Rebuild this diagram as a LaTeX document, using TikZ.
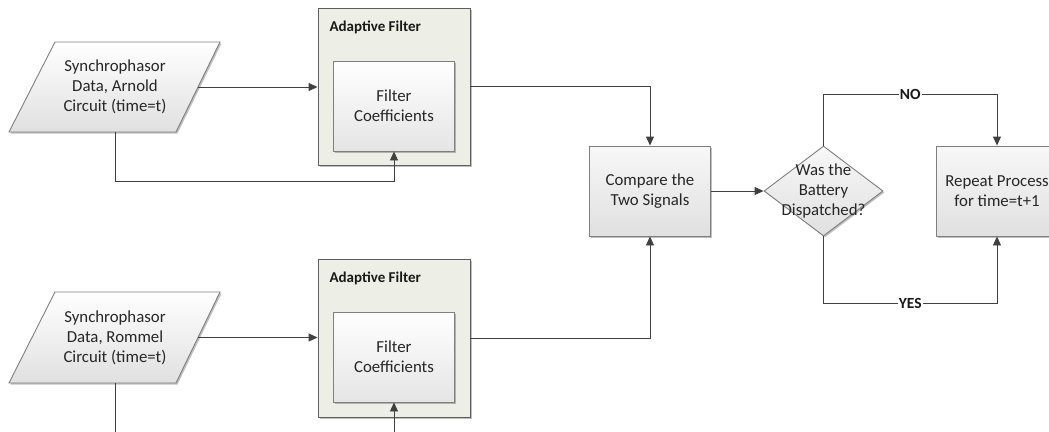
\documentclass[tikz,border=0pt]{standalone}
\usepackage{fontspec}
\setmainfont{Carlito}
\usetikzlibrary{arrows.meta,shapes.geometric,shadows}
\definecolor{linec}{HTML}{404040}
\definecolor{edgec}{HTML}{7F7F7F}
\definecolor{outerc}{HTML}{EDEFE6}
\definecolor{outeredge}{HTML}{5E5E5E}
\definecolor{shadeb}{HTML}{E0E0E0}
\tikzset{
  txt/.style={font=\fontsize{16.8}{20}\selectfont, align=center, text=black!85},
  shad/.style={drop shadow={shadow xshift=1.5pt, shadow yshift=-1.5pt, opacity=0.25, fill=black}},
  procbox/.style={draw=edgec, line width=0.9pt, top color=white!97!black, bottom color=shadeb, minimum width=121pt, minimum height=90pt, inner sep=0pt, shad, txt},
  innerbox/.style={draw=edgec, line width=0.9pt, top color=white, bottom color=shadeb!85, minimum width=121pt, minimum height=90pt, inner sep=0pt, shad, txt},
  outerbox/.style={draw=outeredge, line width=0.9pt, fill=outerc, minimum width=152pt, inner sep=0pt, shad},
  titletxt/.style={font=\fontsize{15}{18}\selectfont\bfseries, anchor=west, text=black!90},
  databox/.style={draw=edgec, line width=0.9pt, top color=white, bottom color=shadeb, shad},
  hidden/.style={inner sep=0pt, minimum width=166pt, minimum height=90pt, txt},
  conn/.style={draw=linec, line width=0.9pt},
  arr/.style={conn, -{Triangle[length=9pt,width=8pt]}},
  lbl/.style={fill=white, inner sep=1pt, font=\fontsize{15.5}{17}\selectfont\bfseries, text=black!90},
}
\begin{document}
\begin{tikzpicture}[x=1pt,y=-1pt]
\useasboundingbox (0,0) rectangle (1049,431);
\clip (0,0) rectangle (1049,431);
% top data parallelogram
\path[databox] (55,42) -- (220,42) -- (176,132) -- (9,132) -- cycle;
\node[hidden] (d1) at (115,87) {Synchrophasor\\Data, Arnold\\Circuit (time=t)};
% bottom data parallelogram
\path[databox] (55,292) -- (220,292) -- (176,383) -- (9,383) -- cycle;
\node[hidden] (d2) at (115,337.5) {Synchrophasor\\Data, Rommel\\Circuit (time=t)};
% adaptive filters
\node[outerbox, minimum height=157pt] (f1) at (394,86.5) {};
\node[titletxt] (t1) at (326,27) {Adaptive Filter};
\node[innerbox] (f1in) at (394,106) {Filter\\Coefficients};
\node[outerbox, minimum height=158pt] (f2) at (394,338) {};
\node[titletxt] (t2) at (326,278) {Adaptive Filter};
\node[innerbox] (f2in) at (394,357) {Filter\\Coefficients};
% compare, decision, repeat
\node[procbox] (cmp) at (650,191) {Compare the\\Two Signals};
\node[diamond, draw=edgec, line width=0.9pt, top color=white!97!black, bottom color=shadeb, minimum width=119pt, minimum height=90pt, inner sep=0pt, shad] (dia) at (823.5,191) {};
\node[txt] (diat) at (dia.center) {Was the\\Battery\\Dispatched?};
\node[procbox] (rep) at (997,191) {Repeat Process\\for time=t+1};
% free ends below the picture
\coordinate (e1) at (115,445);
\coordinate (e2) at (394,445);
% connectors
\draw[arr] (d1.east) -- (d1.east -| f1.west);
\draw[arr] (d1.south) -- ++(0,49) -| (f1in.south);
\draw[arr] (f1.east) -| (cmp.north);
\draw[arr] (d2.east) -- (d2.east -| f2.west);
\draw[conn] (d2.south) -- (e1);
\draw[arr] (e2) -- (f2in.south);
\draw[arr] (f2.east) -| (cmp.south);
\draw[arr] (cmp.east) -- (dia.west);
\draw[arr] (dia.north) -- ++(0,-51) -| node[lbl, pos=0.25] (no) {NO} (rep.north);
\draw[arr] (dia.south) -- ++(0,67) -| node[lbl, pos=0.25] (yes) {YES} (rep.south);
\end{tikzpicture}
\end{document}
